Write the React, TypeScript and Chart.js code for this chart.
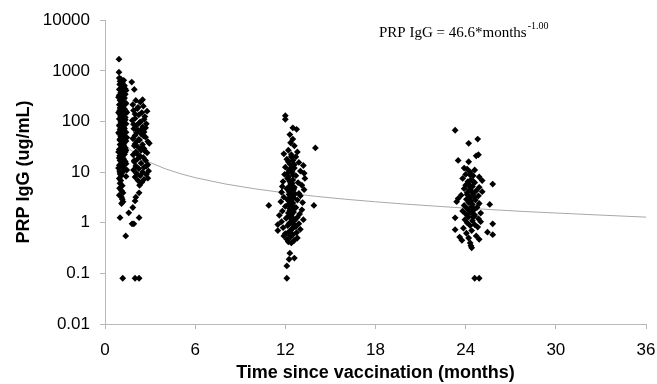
import React, { useEffect, useRef } from "react";
import { Chart, registerables } from "chart.js";

Chart.register(...registerables);

// Axis ticks
const yTickValues = [0.01, 0.1, 1, 10, 100, 1000, 10000];
const xTickStep = 6;

// Fitted curve: PRP IgG = 46.6 * months^-1.00 (sampled values)
const fitMonths = [1, 1.5, 2, 2.5, 3, 4, 5, 6, 8, 10, 12, 14, 16, 18, 20, 24, 28, 32, 36];
const fitIgG = [46.6, 31.1, 23.3, 18.6, 15.5, 11.65, 9.32, 7.77, 5.83, 4.66, 3.88, 3.33, 2.91, 2.59, 2.33, 1.94, 1.66, 1.46, 1.29];

// ~1 month group
const m1Months = [
  0.93, 0.93, 0.95, 1.05, 1.0, 1.15, 0.98, 1.3, 1.1, 0.95, 1.2, 1.05, 1.35, 0.97, 1.15, 1.25, 1.0, 1.1, 1.4, 0.95,
  1.2, 1.05, 1.3, 0.98, 1.15, 1.25, 1.0, 1.1, 1.35, 0.95, 1.2, 1.05, 1.3, 0.98, 1.15, 1.25, 1.0, 1.1, 1.4, 0.95,
  1.2, 1.05, 1.3, 0.98, 1.15, 1.25, 1.0, 1.1, 1.35, 0.95, 1.2, 1.05, 1.3, 0.98, 1.15, 1.25, 1.0, 1.1, 1.4, 0.95,
  1.2, 1.05, 1.3, 0.98, 1.15, 1.0, 1.1, 0.95, 1.05, 1.0, 1.15, 0.97, 1.1, 1.2, 0.95, 1.1, 1.15, 1.2, 1.1, 1.0,
  1.38, 1.18, 1.4, 1.35, 1.45, 1.4, 1.45, 1.4, 1.35, 1.45, 0.9, 0.9, 0.9, 0.9, 0.9,
  1.25, 1.05, 1.35, 1.15, 0.95, 1.3, 1.1, 1.2, 1.0, 1.4, 1.25, 1.05, 1.35, 1.15, 0.95, 1.3, 1.1, 1.2, 1.0, 1.4,
  1.25, 1.05, 1.35, 1.15, 0.95, 1.3, 1.1, 1.2, 1.0, 1.4
];
const m1IgG = [
  1700, 940, 720, 690, 620, 580, 540, 510, 470, 430, 400, 370, 345, 320, 300, 280, 262, 245, 230, 215,
  200, 188, 176, 165, 155, 146, 137, 128, 120, 112, 105, 98, 92, 86, 80, 75, 70, 65, 61, 57,
  53, 50, 46, 43, 40, 37, 35, 32, 30, 28, 26, 24, 22.5, 21, 19.5, 18, 17, 15.8, 14.7, 13.7,
  12.8, 12, 11.2, 10.5, 9.8, 9.2, 8.6, 7.5, 6.8, 6.0, 5.4, 4.8, 4.3, 3.9, 3.5, 3.2, 2.9, 2.6, 2.4, 1.26,
  0.55, 0.08, 410, 220, 150, 90, 48, 27, 16, 11, 300, 150, 60, 25, 12,
  650, 560, 440, 360, 330, 290, 255, 210, 185, 160, 140, 125, 108, 100, 82, 72, 63, 55, 45, 41,
  34, 29, 25, 20, 19, 16.5, 14, 11.5, 10, 8.2
];

// ~2 month group
const m2Months = [
  1.78, 1.95, 2.05, 2.35, 1.85, 2.55, 2.15, 1.9, 2.45, 2.25, 2.65, 2.0, 1.82, 2.35, 2.75, 2.1, 2.5, 1.92, 2.2, 2.6,
  2.4, 2.0, 2.7, 1.85, 2.3, 2.95, 2.1, 2.5, 1.95, 2.2, 2.6, 2.4, 2.05, 2.8, 1.88, 2.3, 2.55, 2.15, 2.7, 1.95,
  2.4, 2.85, 2.05, 2.6, 2.25, 1.9, 2.9, 2.5, 2.1, 2.75, 2.35, 2.0, 2.85, 2.6, 2.2, 2.45, 2.3, 2.27, 2.05, 2.0,
  1.85, 1.58, 2.27, 1.8, 1.92, 2.0, 2.27,
  2.5, 2.2, 2.8, 2.0, 2.6, 2.3, 1.9, 2.7, 2.4, 2.1, 2.55, 2.25, 2.85, 2.0, 2.45, 2.65, 2.15, 2.35, 1.95, 2.75
];
const m2IgG = [
  600, 430, 260, 240, 215, 200, 180, 165, 150, 135, 125, 115, 105, 98, 90, 84, 78, 72, 67, 62,
  57, 53, 49, 46, 43, 37, 40, 35, 33, 31, 29, 27, 25, 24, 22, 21, 19.5, 18, 17, 16,
  15, 14, 13.2, 12.5, 11.7, 11, 10.5, 10, 9.4, 9, 8.5, 8, 7.6, 7.2, 6.8, 6.3, 5.5, 3.9, 3.2, 2.7,
  2.0, 1.57, 1.26, 0.95, 0.95, 0.08, 0.08,
  270, 190, 160, 140, 110, 95, 88, 75, 68, 60, 52, 44, 40, 36, 30, 26, 23, 20, 17, 13
];

// ~12 month group
const m12Months = [
  12.0, 12.0, 12.5, 12.75, 12.3, 12.5, 14.0, 12.35, 12.6, 12.2, 12.8, 11.9, 12.4, 12.7, 12.1, 12.5, 12.9, 12.3, 13.2, 12.0,
  12.6, 12.25, 13.0, 12.45, 13.25, 11.95, 12.7, 12.2, 13.3, 12.5, 11.85, 12.85, 12.35, 13.1, 11.8, 12.6, 12.1, 13.25, 12.4, 11.75,
  12.9, 12.25, 13.0, 11.9, 12.55, 12.15, 12.8, 11.7, 13.15, 12.45, 10.9, 13.9, 12.0, 12.7, 12.3, 13.1, 11.8, 12.55, 12.2, 12.95,
  11.6, 12.4, 12.8, 12.05, 13.2, 12.6, 11.75, 12.3, 12.9, 11.5, 12.15, 12.7, 11.85, 12.45, 13.0, 11.5, 12.25, 12.75, 12.0, 12.5,
  11.9, 12.35, 12.8, 12.1, 12.6, 12.2, 12.4, 12.3, 12.6, 12.25, 12.1, 12.1, 12.3, 12.5, 12.2, 12.4, 12.6, 12.3, 12.5, 12.35,
  12.55, 12.15, 12.45, 12.3,
  12.4, 12.2, 12.6, 12.35, 12.5, 12.15, 12.45, 12.3, 12.55, 12.25, 12.65, 12.4, 12.2, 12.5, 12.35, 12.6, 12.3, 12.45, 12.15, 12.55,
  12.4, 12.25, 12.5, 12.35, 12.3
];
const m12IgG = [
  130, 110, 75, 70, 55, 45, 30, 38, 33, 27, 25, 23, 22, 20, 18, 17, 15.5, 14.5, 13.5, 12.5,
  12, 11, 10.5, 10, 9.5, 9, 8.5, 8, 7.5, 7, 6.5, 6.2, 5.8, 5.5, 5.2, 5, 4.7, 4.5, 4.3, 4.0,
  3.8, 3.6, 3.4, 3.2, 3.1, 2.9, 2.8, 2.6, 2.5, 2.4, 2.2, 2.2, 2.1, 2.0, 1.9, 1.8, 1.7, 1.62, 1.55, 1.48,
  1.4, 1.35, 1.28, 1.22, 1.15, 1.1, 1.05, 1.0, 0.96, 0.92, 0.88, 0.84, 0.8, 0.77, 0.74, 0.7, 0.67, 0.64, 0.61, 0.58,
  0.55, 0.52, 0.5, 0.47, 0.45, 0.42, 0.4, 0.25, 0.2, 0.19, 0.14, 0.08, 6.5, 3.5, 2.3, 1.2, 0.9, 0.62, 1.7, 2.7,
  4.5, 9.5, 13, 3.0,
  20, 16, 14, 11.5, 8.8, 7.5, 6, 5.3, 4.8, 4.1, 3.7, 3.3, 2.75, 2.45, 2.15, 1.95, 1.75, 1.5, 1.3, 1.18,
  1.02, 0.95, 0.78, 0.7, 0.56
];

// ~24 month group
const m24Months = [
  23.3, 24.8, 24.2, 24.85, 24.7, 23.5, 24.2, 23.9, 24.1, 24.6, 24.3, 24.0, 24.5, 24.9, 23.8, 24.35, 25.1, 24.15, 24.6, 25.8,
  24.0, 24.45, 24.9, 23.9, 24.25, 24.7, 25.1, 24.1, 24.5, 23.7, 24.85, 24.3, 23.5, 24.05, 24.65, 23.4, 24.2, 24.9, 25.6, 23.9,
  24.4, 24.75, 24.1, 24.55, 23.8, 24.3, 25.0, 24.0, 24.6, 23.3, 24.2, 24.85, 23.95, 24.45, 25.0, 24.1, 25.8, 24.6, 23.3, 24.3,
  24.8, 23.85, 24.4, 25.45, 24.05, 25.8, 24.7, 23.6, 24.2, 24.9, 23.75, 24.3, 24.35, 24.4, 24.6, 24.9, 24.2, 24.4, 24.3, 24.5,
  24.3, 24.5, 24.2, 24.4, 24.1, 24.6, 24.35, 24.45, 24.25, 24.55
];
const m24IgG = [
  67, 45, 37, 22, 21, 17, 16, 12, 11.5, 11, 10, 9, 8.5, 8, 7.5, 7, 6.8, 6.5, 6.2, 5.8,
  5.5, 5.2, 5, 4.7, 4.5, 4.3, 4.1, 3.9, 3.7, 3.5, 3.4, 3.2, 3.0, 2.9, 2.8, 2.6, 2.5, 2.4, 2.3, 2.2,
  2.1, 2.0, 1.9, 1.8, 1.7, 1.6, 1.55, 1.5, 1.42, 1.25, 1.3, 1.2, 1.15, 1.1, 1.05, 1.0, 0.95, 0.92, 0.73, 0.88,
  0.82, 0.78, 0.7, 0.65, 0.62, 0.58, 0.55, 0.52, 0.5, 0.47, 0.45, 0.4, 0.35, 0.32, 0.08, 0.08, 3.0, 1.6, 5.0, 1.3,
  8.8, 6.6, 5.8, 4.2, 3.6, 3.1, 2.7, 2.3, 1.75, 1.35
];

const toPoints = (xs: number[], ys: number[]) => xs.map((x, i) => ({ x, y: ys[i] }));

const formulaPlugin = {
  id: "formula",
  afterDatasetsDraw(chart: any) {
    const c = chart.ctx as CanvasRenderingContext2D;
    c.save();
    c.fillStyle = "#000";
    c.textBaseline = "alphabetic";
    c.textAlign = "left";
    c.font = "15px 'Liberation Serif', 'Times New Roman', serif";
    const main = "PRP IgG = 46.6*months";
    c.fillText(main, 379, 37);
    const w = c.measureText(main).width;
    c.font = "10px 'Liberation Serif', 'Times New Roman', serif";
    c.fillText("-1.00", 379 + w + 1, 29);
    c.restore();
  },
};

export default function App() {
  const ref = useRef<HTMLCanvasElement>(null);
  useEffect(() => {
    document.body.style.margin = "0";
    const canvas = ref.current!;
    const family = "'Liberation Sans', Arial, sans-serif";
    const tickFont = { family, size: 17 };
    const titleFont = { family, size: 18, weight: "bold" };
    const axisColor = "#b8b8b8";
    const chart = new Chart(canvas, {
      type: "scatter",
      data: {
        datasets: [
          {
            data: toPoints(fitMonths, fitIgG),
            showLine: true,
            borderColor: "#a8a8a8",
            borderWidth: 1,
            pointRadius: 0,
            order: 2,
          } as any,
          {
            data: [
              ...toPoints(m1Months, m1IgG),
              ...toPoints(m2Months, m2IgG),
              ...toPoints(m12Months, m12IgG),
              ...toPoints(m24Months, m24IgG),
            ],
            pointStyle: "rectRot",
            pointRadius: 3.4,
            backgroundColor: "#000",
            borderColor: "#000",
            borderWidth: 0,
            order: 1,
          } as any,
        ],
      },
      options: {
        responsive: false,
        animation: false,
        layout: { padding: { left: 0, right: 0, top: 19, bottom: 0 } },
        plugins: { legend: { display: false }, tooltip: { enabled: false } },
        scales: {
          x: {
            type: "linear",
            min: 0,
            max: 36,
            ticks: { stepSize: xTickStep, color: "#000", font: tickFont, padding: 11, maxRotation: 0 },
            grid: { drawOnChartArea: false, tickLength: 5, color: axisColor },
            border: { color: axisColor },
            title: {
              display: true,
              text: "Time since vaccination (months)",
              color: "#000",
              font: titleFont,
              padding: { top: 0, bottom: 0 },
            },
            afterFit: (s: any) => {
              s.height = 60;
              s.paddingLeft = 0;
              s.paddingRight = 11;
            },
          },
          y: {
            type: "logarithmic",
            min: 0.01,
            max: 10000,
            afterBuildTicks: (s: any) => {
              s.ticks = yTickValues.map((v) => ({ value: v }));
            },
            ticks: {
              color: "#000",
              font: tickFont,
              padding: 10,
              callback: (v: any) => String(v),
            },
            grid: { drawOnChartArea: false, tickLength: 5, color: axisColor },
            border: { color: axisColor },
            title: {
              display: true,
              text: "PRP IgG (ug/mL)",
              color: "#000",
              font: titleFont,
              padding: { top: 13, bottom: 0 },
            },
            afterFit: (s: any) => {
              s.width = 105;
            },
          },
        },
      } as any,
      plugins: [formulaPlugin],
    });
    return () => chart.destroy();
  }, []);
  return <canvas ref={ref} width={657} height={384} style={{ display: "block" }} />;
}
